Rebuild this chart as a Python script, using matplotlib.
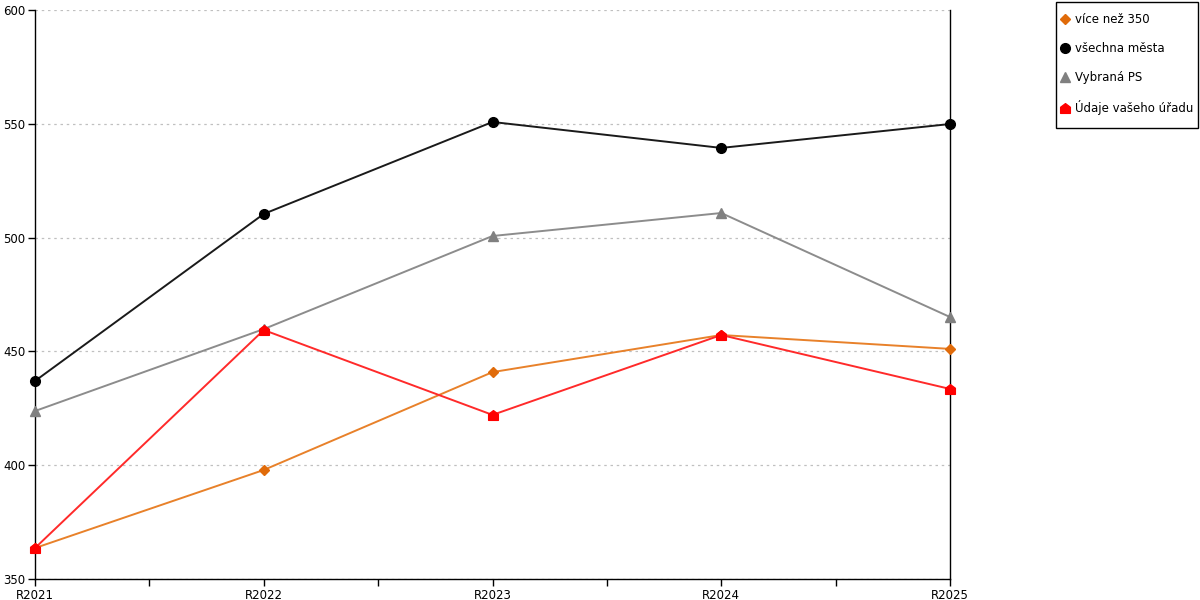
import matplotlib
matplotlib.use("Agg")
import matplotlib.pyplot as plt
import numpy as np
from matplotlib.path import Path
from matplotlib.lines import Line2D
from matplotlib.patches import Rectangle
from matplotlib.ticker import MultipleLocator

years = ["R2021", "R2022", "R2023", "R2024", "R2025"]
vice_nez_350 = [363.6, 397.9, 440.9, 457.2, 451.1]
vsechna_mesta = [437.0, 510.4, 550.8, 539.4, 549.9]
vybrana_ps = [423.8, 459.8, 500.7, 510.8, 465.1]
udaje_uradu = [363.6, 459.4, 422.1, 457.2, 433.5]

# house-shaped marker (square with a roof)
house = Path([(-1, -1), (1, -1), (1, 0.25), (0, 1), (-1, 0.25), (-1, -1)],
             [Path.MOVETO, Path.LINETO, Path.LINETO, Path.LINETO, Path.LINETO, Path.CLOSEPOLY])

series = [
    ("více než 350", vice_nez_350, "#e8812a", "#e06b0a", "D", 5.5),
    ("všechna města", vsechna_mesta, "#1a1a1a", "#000000", "o", 7),
    ("Vybraná PS", vybrana_ps, "#8c8c8c", "#808080", "^", 7.5),
    ("Údaje vašeho úřadu", udaje_uradu, "#ff2a2a", "#ff0000", house, 7),
]

plt.rcParams['font.family'] = ['DejaVu Sans']
fig = plt.figure(figsize=(12, 6), dpi=100)
ax = fig.add_axes([35 / 1200, 21 / 600, 915 / 1200, 569 / 600])

x = np.arange(len(years))
handles = []
for label, vals, lc, mc, mk, ms in series:
    ax.plot(x, vals, color=lc, lw=1.4, marker=mk, markersize=ms,
            markerfacecolor=mc, markeredgecolor=mc, zorder=3, clip_on=False)
    handles.append(Line2D([], [], linestyle='none', marker=mk, markersize=ms,
                          markerfacecolor=mc, markeredgecolor=mc, label=label))

ax.set_xlim(0, len(years) - 1)
ax.set_ylim(350, 600)
ax.set_xticks(x)
ax.set_xticklabels(years)
ax.xaxis.set_minor_locator(MultipleLocator(0.5))
ax.yaxis.set_major_locator(MultipleLocator(50))
ax.tick_params(axis='both', labelsize=8.5, length=5, width=1, pad=2)
ax.tick_params(axis='x', which='minor', length=5, width=1)

ax.grid(axis='y', color='#c0c0c0', linestyle=(0, (2, 3)), lw=0.9, zorder=0)
ax.spines['top'].set_visible(False)
for s in ('left', 'right', 'bottom'):
    ax.spines[s].set_linewidth(1)
    ax.spines[s].set_color('black')

# legend entries without frame, box drawn separately
fig.legend(handles=handles, loc='upper left',
           bbox_to_anchor=(1061 / 1200, 1 - 13 / 600),
           fontsize=8.5, frameon=False, handlelength=0.6,
           handletextpad=0.6, labelspacing=1.36, borderpad=0,
           borderaxespad=0)
fig.patches.append(Rectangle((1055.5 / 1200, 1 - 127.5 / 600), 142 / 1200, 126 / 600,
                             transform=fig.transFigure, fill=False,
                             edgecolor='black', lw=1))

fig.savefig("out.png", dpi=100)
